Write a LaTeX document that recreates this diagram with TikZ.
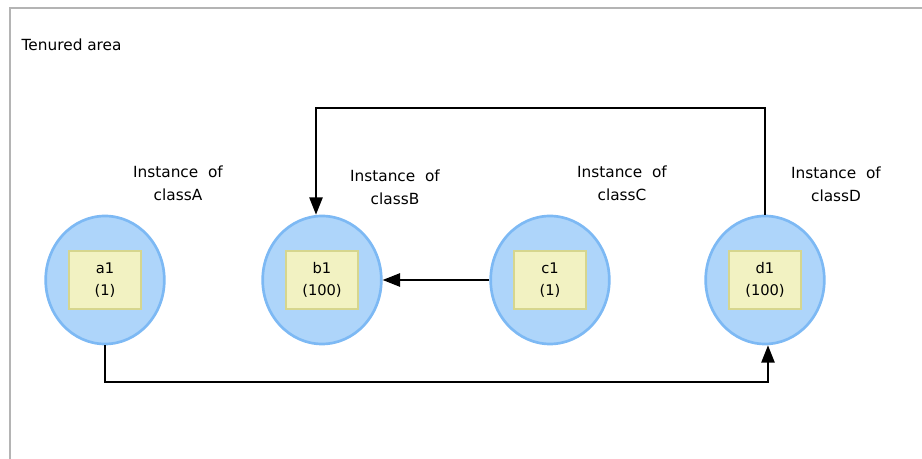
\documentclass[tikz,border=0pt]{standalone}
\usepackage{fontspec}
\setmainfont{DejaVu Sans}
\usetikzlibrary{arrows.meta,shapes.geometric}
\definecolor{arealine}{HTML}{B4B4B4}
\definecolor{objfill}{HTML}{AED5FA}
\definecolor{objline}{HTML}{7DB9F4}
\definecolor{valfill}{HTML}{F2F2C2}
\definecolor{valline}{HTML}{D6D68E}
\tikzset{
  instance/.style={ellipse, draw=objline, fill=objfill, line width=2pt,
    minimum width=89pt, minimum height=96pt, inner sep=0pt},
  value/.style={rectangle, draw=valline, fill=valfill, line width=1pt,
    minimum width=54pt, minimum height=43.5pt, align=center,
    font=\fontsize{11}{17}\selectfont},
  caption/.style={align=center, font=\fontsize{11.5}{17}\selectfont},
  link/.style={line width=1.1pt, -{Triangle[length=13pt,width=10pt]}}
}

\begin{document}
\begin{tikzpicture}[x=0.75pt,y=-0.75pt]
    \useasboundingbox (0,0) rectangle (922,459);
    % Area frame
    \begin{scope}
        \clip (0,0) rectangle (922,459);
        \draw[arealine, line width=2pt] (10,8) rectangle (940,480);
    \end{scope}
    \node[caption, anchor=west] (area) at (17,45) {Tenured\ area};

    % Instances
    \node[instance] (a) at (105,280) {};
    \node[instance] (b) at (322,280) {};
    \node[instance] (c) at (550,280) {};
    \node[instance] (d) at (765,280) {};
    \node[value] (a1) at (a) {a1\\(1)};
    \node[value] (b1) at (b) {b1\\(100)};
    \node[value] (c1) at (c) {c1\\(1)};
    \node[value] (d1) at (d) {d1\\(100)};

    % Labels
    \node[caption] (la) at (178,183) {Instance\ \ of\\classA};
    \node[caption] (lb) at (395,187) {Instance\ \ of\\classB};
    \node[caption] (lc) at (622,183) {Instance\ \ of\\classC};
    \node[caption] (ld) at (836,184) {Instance\ \ of\\classD};

    % References
    \coordinate (top) at (765,108);
    \coordinate (bottom) at (105,382);
    \draw[link] (c.west) -- (b.east);
    \draw[link] (d.north) |- (top) -| ([xshift=-4.5pt]b.north);
    \draw[link] (a.south) |- (bottom) -| ([xshift=2.25pt]d.south);
\end{tikzpicture}
\end{document}
